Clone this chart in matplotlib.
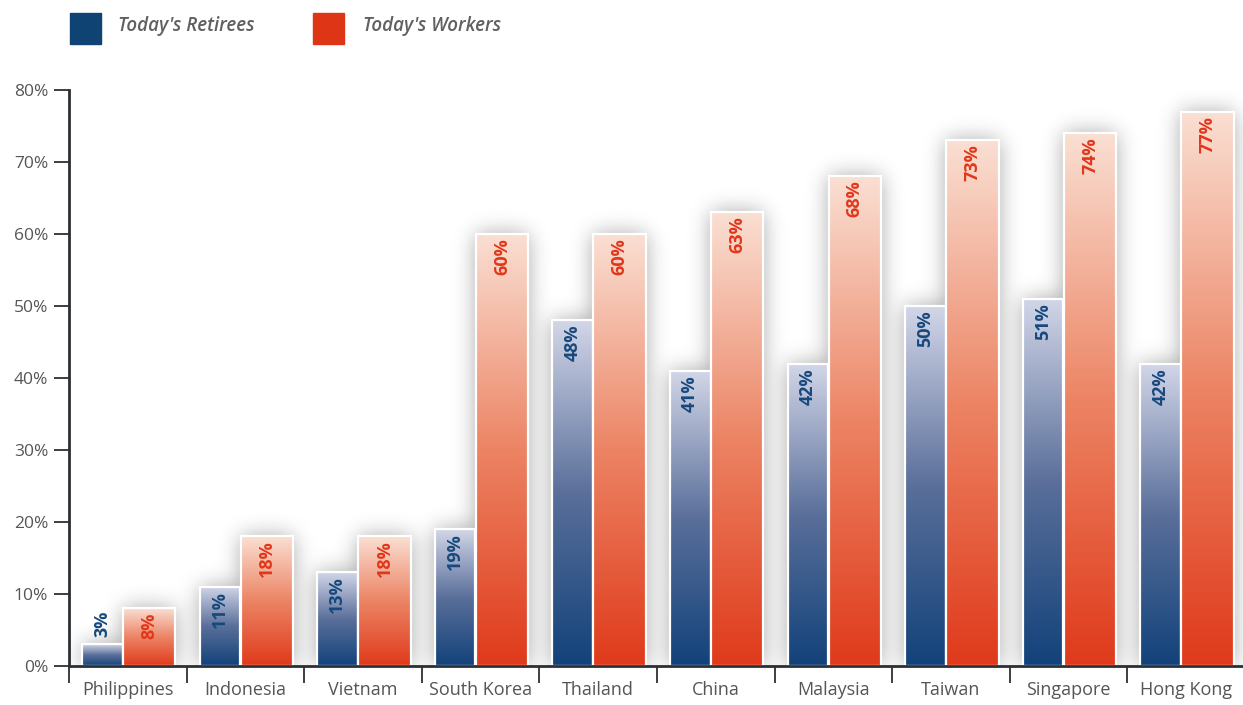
import numpy as np
import matplotlib
matplotlib.use("Agg")
import matplotlib.pyplot as plt
from matplotlib.colors import LinearSegmentedColormap
from matplotlib.patches import Rectangle

plt.rcParams['font.family'] = ['Open Sans', 'DejaVu Sans']

countries = ["Philippines", "Indonesia", "Vietnam", "South Korea", "Thailand",
             "China", "Malaysia", "Taiwan", "Singapore", "Hong Kong"]
retirees = [3, 11, 13, 19, 48, 41, 42, 50, 51, 42]
workers = [8, 18, 18, 60, 60, 63, 68, 73, 74, 77]
yticks = [0, 10, 20, 30, 40, 50, 60, 70, 80]

blue_dark, blue_light = "#12427a", "#d2d6e8"
red_dark, red_light = "#df3a1b", "#fadfd3"
blue_text, red_text = "#17497d", "#e2361a"
axis_col = "#2b3035"
tick_col = "#555555"

W, H = 1243, 705
fig = plt.figure(figsize=(W / 100, H / 100), dpi=100)
ax = fig.add_axes([69 / W, (H - 666) / H, (1245 - 69) / W, (666 - 90) / H])
ax.set_xlim(0, 10)
ax.set_ylim(0, 80)

# bar spans inside each category slot
b0, b1 = 0.11, 0.455
r0, r1 = 0.46, 0.905

# soft drop shadow behind the bars
nx, ny = 1176, 576
xs = (np.arange(nx) + 0.5) / nx * 10
ys = (np.arange(ny) + 0.5) / ny * 80
mask = np.zeros((ny, nx))
for i in range(len(countries)):
    for lo, hi, v in [(b0, b1, retirees[i]), (r0, r1, workers[i])]:
        mx = (xs >= i + lo) & (xs <= i + hi)
        my = ys <= v
        mask[np.ix_(my, mx)] = 1.0
sig = 11
k = np.exp(-0.5 * (np.arange(-3 * sig, 3 * sig + 1) / sig) ** 2)
k /= k.sum()
blur = np.apply_along_axis(lambda r: np.convolve(r, k, mode="same"), 1, mask)
blur = np.apply_along_axis(lambda c: np.convolve(c, k, mode="same"), 0, blur)
shadow = np.zeros((ny, nx, 4))
shadow[..., 3] = 0.36 * blur
ax.imshow(shadow, extent=(0, 10, 0, 80), origin="lower", aspect="auto",
          zorder=1, interpolation="bilinear")

grad = np.linspace(0, 1, 256).reshape(-1, 1)
cm_blue = LinearSegmentedColormap.from_list("b", [blue_dark, "#5a6f9a", blue_light])
cm_red = LinearSegmentedColormap.from_list("r", [red_dark, "#ec8464", red_light])


def draw_bar(x0, x1, v, cmap, z):
    ax.imshow(grad, cmap=cmap, extent=(x0, x1, 0, v), origin="lower",
              aspect="auto", zorder=z)
    ax.add_patch(Rectangle((x0, 0), x1 - x0, v, fill=False, ec="white",
                           lw=1.6, zorder=z + 0.1))


for i in range(len(countries)):
    draw_bar(i + b0, i + b1, retirees[i], cm_blue, 2)
    draw_bar(i + r0, i + r1, workers[i], cm_red, 3)
    for lo, hi, v, col in [(b0, b1, retirees[i], blue_text),
                           (r0, r1, workers[i], red_text)]:
        xc = i + (lo + hi) / 2
        if v < 6:
            ax.text(xc, v + 1.0, f"{v}%", rotation=90, ha="center", va="bottom",
                    color=col, fontsize=13, fontweight="bold", zorder=5)
        else:
            ax.text(xc, v - 0.6, f"{v}%", rotation=90, ha="center", va="top",
                    color=col, fontsize=13, fontweight="bold", zorder=5)

ax.set_xlim(0, 10)
ax.set_ylim(0, 80)

for s in ["top", "right"]:
    ax.spines[s].set_visible(False)
for s in ["left", "bottom"]:
    ax.spines[s].set_color(axis_col)
    ax.spines[s].set_linewidth(2)
    ax.spines[s].set_zorder(6)

ax.set_yticks(yticks)
ax.set_yticklabels([f"{t}%" for t in yticks])
ax.tick_params(axis="y", length=11, width=1.3, color=axis_col, pad=4,
               labelsize=12.5, labelcolor=tick_col)

ax.set_xticks(np.arange(0, 11))
ax.set_xticklabels([])
ax.tick_params(axis="x", which="major", length=12, width=1.3, color=axis_col)
ax.set_xticks(np.arange(10) + 0.5, minor=True)
ax.set_xticklabels(countries, minor=True)
ax.tick_params(axis="x", which="minor", length=0, pad=11, labelsize=13,
               labelcolor=tick_col)

# legend
fig.patches.append(Rectangle((70 / W, 1 - 44 / H), 31 / W, 31 / H,
                             transform=fig.transFigure, color="#0f4374"))
fig.text(118 / W, 1 - 26 / H, "Today's Retirees", fontsize=13.5, style="italic",
         fontweight="semibold", color="#606060", va="center")
fig.patches.append(Rectangle((313 / W, 1 - 44 / H), 31 / W, 31 / H,
                             transform=fig.transFigure, color="#df3517"))
fig.text(363 / W, 1 - 26 / H, "Today's Workers", fontsize=13.5, style="italic",
         fontweight="semibold", color="#606060", va="center")

fig.savefig("out.png", dpi=100)
plt.close(fig)
